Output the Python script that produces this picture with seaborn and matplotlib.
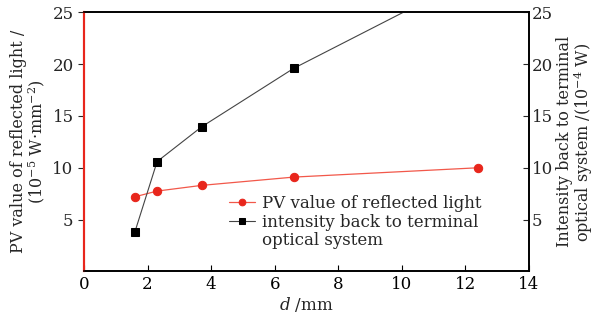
import matplotlib
matplotlib.use("Agg")
import matplotlib.pyplot as plt
from matplotlib.lines import Line2D
import seaborn as sns
import pandas as pd

d_mm = [1.6, 2.3, 3.7, 6.6, 12.4]
pv_reflected = [7.2, 7.75, 8.3, 9.1, 10.0]
intensity_back = [3.8, 10.6, 13.95, 19.6, 28.7]
x_ticks = [0, 2, 4, 6, 8, 10, 12, 14]
y_ticks = [5, 10, 15, 20, 25]
legend_labels = ["PV value of reflected light", "intensity back to terminal", "optical system"]

sns.set_style("ticks")
plt.rcParams['font.family'] = ['DejaVu Serif']
plt.rcParams['mathtext.fontset'] = 'dejavuserif'

df = pd.DataFrame({"d": d_mm, "pv": pv_reflected, "inten": intensity_back})

FS = 12
fig = plt.figure(figsize=(6, 3.25), dpi=100)
ax = fig.add_axes([0.14, 0.165, 0.7417, 0.797])
ax2 = ax.twinx()

sns.lineplot(data=df, x="d", y="pv", ax=ax, color="#f2584a", lw=0.9,
             marker="o", markersize=6, markeredgecolor="#e8261c",
             markerfacecolor="#e8261c", label=legend_labels[0], legend=False)
sns.lineplot(data=df, x="d", y="inten", ax=ax2, color="#444444", lw=0.8,
             marker="s", markersize=5.5, markeredgecolor="black",
             markerfacecolor="black", label=legend_labels[1], legend=False)

for a in (ax, ax2):
    a.set_xlim(0, 14)
    a.set_ylim(0, 25)
    a.set_yticks(y_ticks)
ax.set_xticks(x_ticks)

ax.tick_params(axis='x', direction='in', length=4, labelsize=FS, colors='black')
ax.tick_params(axis='y', direction='out', length=4, labelsize=FS)
ax2.tick_params(axis='y', direction='in', length=4, labelsize=FS, pad=2)

for a in (ax, ax2):
    for s in a.spines.values():
        s.set_visible(True)
        s.set_color('black')
        s.set_linewidth(1.2)
    a.spines['left'].set_color('#e8261c')
    a.spines['left'].set_linewidth(1.5)

ax.set_xlabel("$d$ /mm", fontsize=FS, labelpad=1)
ax.set_ylabel("PV value of reflected light /\n(10$^{-5}$ W·mm$^{-2}$)", fontsize=11.5, linespacing=0.95, labelpad=4)
ax2.set_ylabel("Intensity back to terminal\noptical system /(10$^{-4}$ W)", fontsize=11.5, linespacing=0.95, labelpad=2)

h1, l1 = ax.get_legend_handles_labels()
h2, l2 = ax2.get_legend_handles_labels()
blank = Line2D([], [], linestyle='none', marker=None)
ax.legend(h1 + h2 + [blank], l1 + l2 + [legend_labels[2]], loc='lower left',
          bbox_to_anchor=(0.31, 0.06),
          frameon=False, fontsize=FS, handlelength=1.6, handletextpad=0.4,
          borderaxespad=0, labelspacing=0.1, markerscale=0.8)

fig.savefig("out.png", dpi=100)
